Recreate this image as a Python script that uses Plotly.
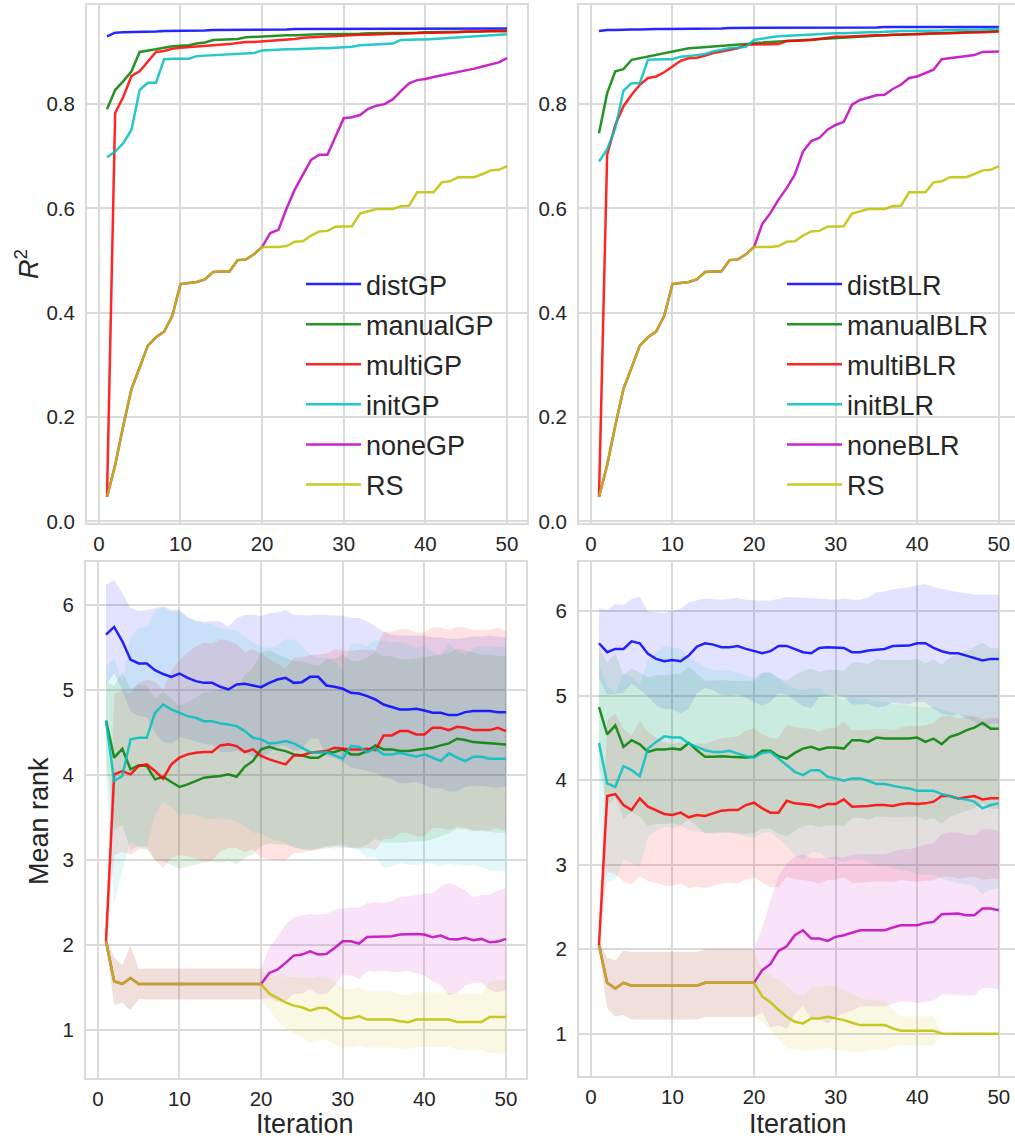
import plotly.graph_objects as go

W, H = 1015, 1140

# ---------------- data ----------------
iterations = list(range(1, 51))
x_ticks = [0, 10, 20, 30, 40, 50]
r2_ticks = [0.0, 0.2, 0.4, 0.6, 0.8]
rank_ticks = [1, 2, 3, 4, 5, 6]

gp_names = ["distGP", "manualGP", "multiGP", "initGP", "noneGP", "RS"]
blr_names = ["distBLR", "manualBLR", "multiBLR", "initBLR", "noneBLR", "RS"]

# R^2, GP panel
r2_dist_gp = [0.930, 0.937, 0.938, 0.938, 0.939, 0.939, 0.939, 0.940, 0.940, 0.940,
              0.941, 0.941, 0.941, 0.942, 0.942, 0.942, 0.942, 0.943, 0.943, 0.943,
              0.943, 0.943, 0.943, 0.944, 0.944, 0.944, 0.944, 0.944, 0.944, 0.944,
              0.944, 0.944, 0.945, 0.945, 0.945, 0.945, 0.945, 0.945, 0.945, 0.945,
              0.945, 0.945, 0.945, 0.945, 0.945, 0.945, 0.945, 0.945, 0.945, 0.945]
r2_manual_gp = [0.790, 0.827, 0.844, 0.863, 0.900, 0.902, 0.905, 0.908, 0.911, 0.912,
                0.913, 0.916, 0.918, 0.923, 0.924, 0.924, 0.925, 0.928, 0.929, 0.930,
                0.931, 0.931, 0.932, 0.932, 0.933, 0.933, 0.934, 0.934, 0.934, 0.935,
                0.935, 0.935, 0.936, 0.936, 0.936, 0.937, 0.937, 0.937, 0.937, 0.938,
                0.938, 0.938, 0.938, 0.939, 0.939, 0.939, 0.939, 0.940, 0.940, 0.940]
r2_multi_gp = [0.047, 0.783, 0.814, 0.854, 0.863, 0.881, 0.900, 0.902, 0.906, 0.908,
               0.909, 0.910, 0.912, 0.912, 0.913, 0.915, 0.917, 0.919, 0.919, 0.920,
               0.921, 0.923, 0.924, 0.925, 0.927, 0.928, 0.929, 0.930, 0.931, 0.932,
               0.932, 0.933, 0.933, 0.934, 0.934, 0.935, 0.935, 0.936, 0.936, 0.937,
               0.937, 0.937, 0.938, 0.938, 0.939, 0.939, 0.939, 0.940, 0.940, 0.940]
r2_init_gp = [0.698, 0.709, 0.725, 0.751, 0.827, 0.841, 0.841, 0.886, 0.887, 0.887,
              0.887, 0.892, 0.893, 0.894, 0.895, 0.896, 0.897, 0.897, 0.898, 0.903,
              0.904, 0.904, 0.905, 0.905, 0.906, 0.906, 0.907, 0.907, 0.908, 0.909,
              0.910, 0.913, 0.914, 0.915, 0.915, 0.916, 0.923, 0.924, 0.924, 0.924,
              0.925, 0.926, 0.927, 0.929, 0.930, 0.931, 0.932, 0.933, 0.934, 0.934]
r2_none_gp = [0.047, 0.108, 0.184, 0.254, 0.295, 0.337, 0.353, 0.364, 0.394, 0.455,
              0.457, 0.459, 0.464, 0.478, 0.479, 0.479, 0.501, 0.502, 0.512, 0.526,
              0.553, 0.559, 0.600, 0.636, 0.665, 0.693, 0.703, 0.703, 0.738, 0.773,
              0.775, 0.779, 0.791, 0.797, 0.800, 0.809, 0.825, 0.840, 0.846, 0.848,
              0.852, 0.855, 0.859, 0.862, 0.865, 0.868, 0.872, 0.876, 0.880, 0.888]
r2_rs = [0.047, 0.108, 0.184, 0.254, 0.295, 0.337, 0.353, 0.364, 0.394, 0.455,
         0.457, 0.459, 0.464, 0.478, 0.479, 0.479, 0.501, 0.502, 0.512, 0.526,
         0.526, 0.526, 0.528, 0.536, 0.537, 0.548, 0.556, 0.557, 0.565, 0.566,
         0.566, 0.590, 0.594, 0.599, 0.599, 0.599, 0.604, 0.605, 0.631, 0.631,
         0.631, 0.650, 0.652, 0.660, 0.660, 0.660, 0.666, 0.673, 0.674, 0.681]

# R^2, BLR panel
r2_dist_blr = [0.940, 0.942, 0.942, 0.943, 0.943, 0.943, 0.944, 0.944, 0.944, 0.944,
               0.945, 0.945, 0.945, 0.945, 0.945, 0.945, 0.946, 0.946, 0.946, 0.946,
               0.946, 0.946, 0.946, 0.947, 0.947, 0.947, 0.947, 0.947, 0.947, 0.947,
               0.947, 0.947, 0.947, 0.947, 0.947, 0.948, 0.948, 0.948, 0.948, 0.948,
               0.948, 0.948, 0.948, 0.948, 0.948, 0.948, 0.948, 0.948, 0.948, 0.948]
r2_manual_blr = [0.744, 0.821, 0.863, 0.867, 0.885, 0.888, 0.891, 0.894, 0.898, 0.901,
                 0.904, 0.907, 0.908, 0.909, 0.910, 0.911, 0.912, 0.913, 0.915, 0.917,
                 0.918, 0.919, 0.920, 0.921, 0.922, 0.923, 0.924, 0.925, 0.926, 0.927,
                 0.928, 0.929, 0.930, 0.931, 0.931, 0.932, 0.933, 0.933, 0.934, 0.935,
                 0.935, 0.936, 0.936, 0.937, 0.937, 0.938, 0.938, 0.939, 0.939, 0.940]
r2_multi_blr = [0.047, 0.703, 0.760, 0.796, 0.818, 0.837, 0.850, 0.853, 0.861, 0.872,
                0.883, 0.888, 0.889, 0.893, 0.898, 0.901, 0.904, 0.907, 0.914, 0.914,
                0.914, 0.915, 0.915, 0.921, 0.921, 0.922, 0.923, 0.925, 0.928, 0.929,
                0.929, 0.930, 0.930, 0.931, 0.932, 0.932, 0.933, 0.933, 0.934, 0.934,
                0.935, 0.935, 0.936, 0.936, 0.937, 0.937, 0.938, 0.938, 0.939, 0.939]
r2_init_blr = [0.690, 0.713, 0.754, 0.826, 0.840, 0.840, 0.885, 0.886, 0.886, 0.886,
               0.891, 0.892, 0.894, 0.896, 0.901, 0.904, 0.907, 0.908, 0.910, 0.923,
               0.926, 0.928, 0.930, 0.931, 0.932, 0.933, 0.934, 0.935, 0.935, 0.936,
               0.936, 0.937, 0.937, 0.938, 0.938, 0.939, 0.939, 0.940, 0.940, 0.940,
               0.941, 0.941, 0.941, 0.942, 0.942, 0.943, 0.943, 0.943, 0.944, 0.944]
r2_none_blr = [0.047, 0.108, 0.184, 0.254, 0.295, 0.337, 0.353, 0.364, 0.394, 0.455,
               0.457, 0.459, 0.464, 0.478, 0.479, 0.479, 0.501, 0.502, 0.512, 0.526,
               0.570, 0.591, 0.617, 0.639, 0.665, 0.709, 0.729, 0.735, 0.751, 0.760,
               0.766, 0.799, 0.808, 0.813, 0.817, 0.818, 0.829, 0.837, 0.850, 0.853,
               0.859, 0.866, 0.886, 0.888, 0.889, 0.891, 0.894, 0.900, 0.901, 0.901]

# Mean rank, GP panel
rank_dist_gp = [5.655, 5.745, 5.576, 5.360, 5.314, 5.314, 5.235, 5.190, 5.157, 5.196,
                5.145, 5.106, 5.086, 5.086, 5.040, 5.008, 5.067, 5.075, 5.055, 5.035,
                5.086, 5.125, 5.145, 5.086, 5.094, 5.157, 5.157, 5.055, 5.040, 5.016,
                4.969, 4.961, 4.929, 4.890, 4.831, 4.804, 4.773, 4.773, 4.780, 4.761,
                4.733, 4.733, 4.706, 4.706, 4.741, 4.753, 4.753, 4.753, 4.741, 4.741]
rank_manual_gp = [4.643, 4.204, 4.310, 4.067, 4.114, 4.106, 3.949, 3.980, 3.918, 3.859,
                  3.890, 3.929, 3.969, 3.980, 3.988, 4.008, 3.980, 4.098, 4.165, 4.302,
                  4.333, 4.302, 4.282, 4.243, 4.231, 4.204, 4.204, 4.263, 4.271, 4.302,
                  4.243, 4.243, 4.282, 4.349, 4.302, 4.302, 4.282, 4.282, 4.294, 4.302,
                  4.322, 4.349, 4.373, 4.427, 4.412, 4.388, 4.380, 4.373, 4.361, 4.361]
rank_multi_gp = [2.041, 4.008, 4.047, 4.008, 4.106, 4.125, 4.047, 3.957, 4.125, 4.204,
                 4.243, 4.263, 4.271, 4.271, 4.349, 4.361, 4.341, 4.271, 4.302, 4.224,
                 4.184, 4.153, 4.125, 4.231, 4.231, 4.263, 4.271, 4.282, 4.322, 4.310,
                 4.302, 4.302, 4.310, 4.294, 4.467, 4.467, 4.518, 4.518, 4.478, 4.478,
                 4.557, 4.557, 4.529, 4.569, 4.557, 4.529, 4.529, 4.529, 4.557, 4.518]
rank_init_gp = [4.635, 3.929, 3.988, 4.420, 4.439, 4.439, 4.733, 4.831, 4.773, 4.733,
                4.694, 4.675, 4.635, 4.635, 4.608, 4.596, 4.576, 4.518, 4.439, 4.420,
                4.373, 4.380, 4.400, 4.373, 4.322, 4.271, 4.263, 4.271, 4.231, 4.192,
                4.341, 4.333, 4.271, 4.310, 4.243, 4.243, 4.263, 4.243, 4.216, 4.243,
                4.204, 4.165, 4.255, 4.204, 4.165, 4.216, 4.216, 4.192, 4.192, 4.192]
rank_none_gp = [2.041, 1.570, 1.538, 1.609, 1.538, 1.538, 1.538, 1.538, 1.538, 1.538,
                1.538, 1.538, 1.538, 1.538, 1.538, 1.538, 1.538, 1.538, 1.538, 1.538,
                1.668, 1.707, 1.786, 1.872, 1.884, 1.923, 1.884, 1.892, 1.963, 2.041,
                2.041, 2.014, 2.092, 2.092, 2.092, 2.100, 2.120, 2.128, 2.128, 2.120,
                2.088, 2.108, 2.069, 2.061, 2.081, 2.053, 2.069, 2.029, 2.037, 2.069]
rank_rs_gp = [2.041, 1.570, 1.538, 1.609, 1.538, 1.538, 1.538, 1.538, 1.538, 1.538,
              1.538, 1.538, 1.538, 1.538, 1.538, 1.538, 1.538, 1.538, 1.538, 1.538,
              1.424, 1.373, 1.322, 1.283, 1.263, 1.224, 1.255, 1.255, 1.196, 1.134,
              1.134, 1.157, 1.118, 1.118, 1.118, 1.118, 1.098, 1.086, 1.118, 1.118,
              1.118, 1.118, 1.118, 1.090, 1.090, 1.090, 1.090, 1.149, 1.149, 1.149]

std_dist_gp = [0.59, 0.55, 0.57, 0.61, 0.62, 0.63, 0.73, 0.80, 0.79, 0.75,
               0.72, 0.71, 0.72, 0.73, 0.77, 0.74, 0.78, 0.81, 0.83, 0.84,
               0.82, 0.79, 0.80, 0.80, 0.79, 0.73, 0.73, 0.83, 0.84, 0.86,
               0.88, 0.89, 0.88, 0.86, 0.86, 0.85, 0.87, 0.87, 0.86, 0.88,
               0.89, 0.89, 0.90, 0.90, 0.88, 0.88, 0.88, 0.89, 0.89, 0.88]
std_manual_gp = [0.45, 0.85, 0.90, 0.95, 0.95, 0.95, 0.95, 1.00, 0.98, 0.96,
                 0.97, 0.98, 1.00, 1.00, 1.02, 1.02, 1.03, 1.08, 1.10, 1.14,
                 1.14, 1.12, 1.10, 1.10, 1.10, 1.10, 1.08, 1.10, 1.10, 1.12,
                 1.10, 1.10, 1.10, 1.10, 1.10, 1.10, 1.08, 1.08, 1.08, 1.08,
                 1.08, 1.07, 1.06, 1.06, 1.05, 1.05, 1.04, 1.04, 1.04, 1.04]
std_multi_gp = [0.08, 0.95, 0.95, 0.95, 0.98, 1.00, 1.05, 1.05, 1.10, 1.15,
                1.20, 1.25, 1.29, 1.28, 1.25, 1.22, 1.20, 1.18, 1.18, 1.20,
                1.18, 1.15, 1.13, 1.15, 1.15, 1.15, 1.15, 1.15, 1.16, 1.16,
                1.16, 1.17, 1.17, 1.18, 1.22, 1.22, 1.20, 1.20, 1.20, 1.20,
                1.18, 1.18, 1.18, 1.18, 1.18, 1.18, 1.18, 1.18, 1.18, 1.18]
std_init_gp = [0.65, 1.45, 1.10, 1.20, 1.30, 1.30, 1.20, 1.15, 1.15, 1.20,
               1.15, 1.15, 1.15, 1.15, 1.12, 1.12, 1.12, 1.12, 1.12, 1.10,
               1.12, 1.15, 1.20, 1.22, 1.20, 1.15, 1.12, 1.12, 1.10, 1.05,
               1.20, 1.22, 1.25, 1.28, 1.34, 1.32, 1.30, 1.30, 1.28, 1.28,
               1.25, 1.24, 1.30, 1.26, 1.24, 1.28, 1.30, 1.32, 1.32, 1.32]
std_none_gp = [0.05, 0.28, 0.22, 0.38, 0.18, 0.18, 0.18, 0.18, 0.18, 0.18,
               0.18, 0.18, 0.18, 0.18, 0.18, 0.18, 0.18, 0.18, 0.18, 0.18,
               0.30, 0.38, 0.45, 0.45, 0.46, 0.44, 0.47, 0.47, 0.45, 0.39,
               0.40, 0.42, 0.40, 0.41, 0.40, 0.42, 0.44, 0.44, 0.46, 0.48,
               0.52, 0.58, 0.66, 0.63, 0.56, 0.50, 0.52, 0.56, 0.60, 0.60]
std_rs_gp = [0.05, 0.28, 0.22, 0.38, 0.18, 0.18, 0.18, 0.18, 0.18, 0.18,
             0.18, 0.18, 0.18, 0.18, 0.18, 0.18, 0.18, 0.18, 0.18, 0.18,
             0.20, 0.27, 0.30, 0.33, 0.35, 0.38, 0.37, 0.37, 0.37, 0.35,
             0.34, 0.34, 0.33, 0.33, 0.33, 0.33, 0.32, 0.32, 0.32, 0.32,
             0.32, 0.32, 0.32, 0.33, 0.33, 0.33, 0.33, 0.42, 0.43, 0.44]

# Mean rank, BLR panel
rank_dist_blr = [5.619, 5.513, 5.552, 5.552, 5.642, 5.619, 5.493, 5.434, 5.407, 5.422,
                 5.407, 5.473, 5.580, 5.619, 5.603, 5.572, 5.572, 5.587, 5.552, 5.525,
                 5.501, 5.525, 5.587, 5.587, 5.552, 5.513, 5.501, 5.564, 5.572, 5.572,
                 5.564, 5.513, 5.513, 5.532, 5.540, 5.552, 5.587, 5.587, 5.591, 5.619,
                 5.619, 5.564, 5.525, 5.501, 5.501, 5.473, 5.446, 5.415, 5.434, 5.434]
rank_manual_blr = [4.864, 4.542, 4.648, 4.393, 4.472, 4.424, 4.334, 4.361, 4.361, 4.373,
                   4.361, 4.440, 4.354, 4.275, 4.275, 4.283, 4.275, 4.267, 4.267, 4.275,
                   4.346, 4.346, 4.283, 4.255, 4.322, 4.373, 4.393, 4.361, 4.385, 4.385,
                   4.373, 4.472, 4.472, 4.452, 4.503, 4.491, 4.491, 4.491, 4.491, 4.503,
                   4.452, 4.491, 4.424, 4.511, 4.542, 4.589, 4.621, 4.676, 4.609, 4.609]
rank_multi_blr = [2.047, 3.811, 3.835, 3.705, 3.646, 3.784, 3.686, 3.646, 3.599, 3.587,
                  3.615, 3.560, 3.587, 3.576, 3.607, 3.639, 3.646, 3.646, 3.705, 3.733,
                  3.666, 3.615, 3.615, 3.756, 3.725, 3.717, 3.705, 3.678, 3.717, 3.717,
                  3.772, 3.686, 3.686, 3.694, 3.705, 3.705, 3.694, 3.717, 3.725, 3.717,
                  3.725, 3.745, 3.811, 3.811, 3.784, 3.796, 3.811, 3.772, 3.784, 3.784]
rank_init_blr = [4.440, 3.961, 3.921, 4.165, 4.118, 4.047, 4.373, 4.452, 4.519, 4.503,
                 4.503, 4.432, 4.393, 4.354, 4.334, 4.334, 4.346, 4.314, 4.283, 4.267,
                 4.322, 4.334, 4.255, 4.177, 4.098, 4.059, 4.118, 4.118, 4.039, 4.020,
                 3.992, 4.020, 4.020, 3.992, 3.953, 3.953, 3.929, 3.914, 3.902, 3.874,
                 3.874, 3.874, 3.835, 3.811, 3.784, 3.772, 3.745, 3.666, 3.705, 3.725]
rank_none_blr = [2.047, 1.602, 1.535, 1.602, 1.567, 1.567, 1.567, 1.567, 1.567, 1.567,
                 1.567, 1.567, 1.567, 1.602, 1.602, 1.602, 1.602, 1.602, 1.602, 1.602,
                 1.752, 1.823, 1.980, 2.035, 2.165, 2.224, 2.126, 2.126, 2.098, 2.146,
                 2.165, 2.193, 2.224, 2.224, 2.224, 2.224, 2.256, 2.283, 2.283, 2.283,
                 2.311, 2.323, 2.413, 2.421, 2.421, 2.402, 2.402, 2.480, 2.480, 2.461]
rank_rs_blr = [2.047, 1.602, 1.535, 1.602, 1.567, 1.567, 1.567, 1.567, 1.567, 1.567,
               1.567, 1.567, 1.567, 1.602, 1.602, 1.602, 1.602, 1.602, 1.602, 1.602,
               1.441, 1.374, 1.283, 1.200, 1.142, 1.122, 1.181, 1.181, 1.200, 1.181,
               1.161, 1.130, 1.102, 1.102, 1.102, 1.102, 1.063, 1.035, 1.035, 1.035,
               1.035, 1.035, 1.004, 1.000, 1.000, 1.000, 1.000, 1.000, 1.000, 1.000]

std_dist_blr = [0.41, 0.50, 0.53, 0.52, 0.50, 0.55, 0.50, 0.55, 0.57, 0.58,
                0.62, 0.63, 0.55, 0.53, 0.54, 0.56, 0.57, 0.57, 0.58, 0.60,
                0.62, 0.60, 0.56, 0.58, 0.61, 0.64, 0.65, 0.58, 0.57, 0.56,
                0.58, 0.62, 0.62, 0.63, 0.68, 0.68, 0.67, 0.68, 0.69, 0.69,
                0.70, 0.72, 0.74, 0.74, 0.72, 0.74, 0.75, 0.78, 0.76, 0.76]
std_manual_blr = [0.70, 0.85, 0.85, 0.85, 0.85, 0.85, 0.88, 0.88, 0.88, 0.88,
                  0.90, 0.90, 0.90, 0.90, 0.90, 0.90, 0.90, 0.90, 0.90, 0.90,
                  0.92, 0.92, 0.92, 0.92, 0.92, 0.92, 0.92, 0.92, 0.92, 0.92,
                  0.92, 0.92, 0.92, 0.92, 0.93, 0.93, 0.93, 0.93, 0.93, 0.93,
                  0.93, 0.94, 0.94, 0.94, 0.94, 0.95, 0.95, 0.95, 0.95, 0.95]
std_multi_blr = [0.08, 0.90, 0.95, 0.90, 0.88, 0.92, 0.88, 0.86, 0.85, 0.84,
                 0.84, 0.84, 0.85, 0.85, 0.86, 0.86, 0.86, 0.87, 0.88, 0.88,
                 0.88, 0.88, 0.88, 0.90, 0.90, 0.90, 0.90, 0.90, 0.90, 0.90,
                 0.92, 0.90, 0.90, 0.90, 0.90, 0.90, 0.90, 0.90, 0.92, 0.92,
                 0.92, 0.93, 0.95, 0.95, 0.95, 0.95, 0.95, 0.95, 0.95, 0.95]
std_init_blr = [0.92, 1.16, 1.10, 1.10, 1.10, 1.08, 1.05, 1.05, 1.07, 1.07,
                1.05, 1.02, 1.00, 0.98, 0.97, 0.96, 0.95, 0.95, 0.95, 0.95,
                0.95, 0.95, 0.95, 0.95, 0.99, 1.00, 0.97, 0.97, 0.97, 0.96,
                0.96, 0.96, 0.96, 0.96, 0.97, 0.97, 0.97, 0.98, 0.98, 0.99,
                0.99, 0.99, 1.00, 1.00, 1.00, 1.00, 1.00, 1.02, 1.00, 1.00]
std_none_blr = [0.05, 0.30, 0.33, 0.38, 0.40, 0.40, 0.40, 0.40, 0.40, 0.40,
                0.40, 0.40, 0.40, 0.40, 0.40, 0.40, 0.40, 0.40, 0.40, 0.40,
                0.50, 0.75, 0.88, 0.98, 0.93, 0.90, 0.95, 0.95, 0.98, 0.95,
                0.92, 0.92, 0.90, 0.90, 0.90, 0.90, 0.90, 0.90, 0.90, 0.92,
                0.93, 0.93, 0.95, 0.96, 0.96, 0.95, 0.95, 0.94, 0.94, 0.94]
std_rs_blr = [0.05, 0.30, 0.33, 0.38, 0.40, 0.40, 0.40, 0.40, 0.40, 0.40,
              0.40, 0.40, 0.40, 0.40, 0.40, 0.40, 0.40, 0.40, 0.40, 0.40,
              0.30, 0.32, 0.35, 0.37, 0.33, 0.32, 0.37, 0.37, 0.37, 0.37,
              0.36, 0.35, 0.32, 0.30, 0.29, 0.29, 0.22, 0.17, 0.17, 0.17,
              0.17, 0.17, 0.00, 0.00, 0.00, 0.00, 0.00, 0.00, 0.00, 0.00]

# ---------------- style ----------------
base_rgb = [(0, 0, 255), (0, 128, 0), (255, 0, 0), (0, 191, 191), (191, 0, 191), (191, 191, 0)]
line_colors = ["rgba(%d,%d,%d,0.85)" % c for c in base_rgb]
band_colors = ["rgba(%d,%d,%d,0.11)" % c for c in base_rgb]

FONT = "Arial, 'Liberation Sans', Helvetica, sans-serif"
TXT = "#262626"
GRID = "#dadada"
TICK_SIZE = 20.5
LABEL_SIZE = 27


def px_x(a, b):
    return [a / W, b / W]


def px_y(top, bottom):
    return [1 - bottom / H, 1 - top / H]


fig = go.Figure()

top_gp = [r2_dist_gp, r2_manual_gp, r2_multi_gp, r2_init_gp, r2_none_gp, r2_rs]
top_blr = [r2_dist_blr, r2_manual_blr, r2_multi_blr, r2_init_blr, r2_none_blr, r2_rs]
bot_gp = [rank_dist_gp, rank_manual_gp, rank_multi_gp, rank_init_gp, rank_none_gp, rank_rs_gp]
bot_gp_sd = [std_dist_gp, std_manual_gp, std_multi_gp, std_init_gp, std_none_gp, std_rs_gp]
bot_blr = [rank_dist_blr, rank_manual_blr, rank_multi_blr, rank_init_blr, rank_none_blr, rank_rs_blr]
bot_blr_sd = [std_dist_blr, std_manual_blr, std_multi_blr, std_init_blr, std_none_blr, std_rs_blr]

# top panels: lines with legends
for names, series, xa, ya, leg in [(gp_names, top_gp, "x", "y", "legend"),
                                   (blr_names, top_blr, "x2", "y2", "legend2")]:
    for k, (nm, vals) in enumerate(zip(names, series)):
        fig.add_trace(go.Scatter(
            x=iterations, y=vals, mode="lines", name=nm,
            line=dict(color=line_colors[k], width=2.5),
            xaxis=xa, yaxis=ya, legend=leg, legendgroup=leg + nm,
            showlegend=True, hoverinfo="skip"))

# bottom panels: bands then lines
for names, means, sds, xa, ya in [(gp_names, bot_gp, bot_gp_sd, "x3", "y3"),
                                  (blr_names, bot_blr, bot_blr_sd, "x4", "y4")]:
    for k, (nm, m, s) in enumerate(zip(names, means, sds)):
        upper = [a + b for a, b in zip(m, s)]
        lower = [a - b for a, b in zip(m, s)]
        fig.add_trace(go.Scatter(
            x=iterations + iterations[::-1], y=upper + lower[::-1],
            mode="lines", fill="toself", fillcolor=band_colors[k],
            line=dict(width=0, color=band_colors[k]),
            xaxis=xa, yaxis=ya, showlegend=False, hoverinfo="skip"))
    for k, (nm, m) in enumerate(zip(names, means)):
        fig.add_trace(go.Scatter(
            x=iterations, y=m, mode="lines", name=nm,
            line=dict(color=line_colors[k], width=2.5),
            xaxis=xa, yaxis=ya, showlegend=False, hoverinfo="skip"))

axis_common = dict(
    showgrid=True, gridcolor=GRID, gridwidth=2,
    showline=True, mirror=True, linecolor=GRID, linewidth=2,
    zeroline=False, ticks="", automargin=False,
    tickfont=dict(family=FONT, size=TICK_SIZE, color=TXT),
)
xaxis_common = dict(ticklabelstandoff=1, **axis_common)
yaxis_common = dict(ticklabelstandoff=6, **axis_common)

x_full = [-1.45, 52.45]
x_cut = [-1.45, 51.98]

legend_common = dict(xanchor="left", yanchor="top", bgcolor="rgba(0,0,0,0)",
                     borderwidth=0, tracegroupgap=2, itemwidth=55,
                     font=dict(family=FONT, size=LABEL_SIZE, color=TXT))

fig.update_layout(
    width=W, height=H, autosize=False,
    margin=dict(l=0, r=0, t=0, b=0, pad=0),
    paper_bgcolor="white", plot_bgcolor="white",
    font=dict(family=FONT, color=TXT),
    xaxis=dict(domain=px_x(87, 527), range=x_full, tickvals=x_ticks, anchor="y", **xaxis_common),
    yaxis=dict(domain=px_y(5, 523), range=[-0.003, 0.99], tickvals=r2_ticks,
               tickformat=".1f", anchor="x", **yaxis_common),
    xaxis2=dict(domain=px_x(579, 1015), range=x_cut, tickvals=x_ticks, anchor="y2", **xaxis_common),
    yaxis2=dict(domain=px_y(5, 523), range=[-0.003, 0.99], tickvals=r2_ticks,
                tickformat=".1f", anchor="x2", **yaxis_common),
    xaxis3=dict(domain=px_x(86, 526), range=x_full, tickvals=x_ticks, anchor="y3", **xaxis_common),
    yaxis3=dict(domain=px_y(562, 1078), range=[0.43, 6.51], tickvals=rank_ticks, anchor="x3", **yaxis_common),
    xaxis4=dict(domain=px_x(579, 1015), range=x_cut, tickvals=x_ticks, anchor="y4", **xaxis_common),
    yaxis4=dict(domain=px_y(562, 1076), range=[0.50, 6.58], tickvals=rank_ticks, anchor="x4", **yaxis_common),
    legend=dict(x=301 / W, y=1 - 260 / H, **legend_common),
    legend2=dict(x=782 / W, y=1 - 260 / H, **legend_common),
    annotations=[
        dict(text="<i>R</i><sup>2</sup>", x=27 / W, y=1 - 264 / H, xref="paper", yref="paper",
             textangle=-90, showarrow=False, xanchor="center", yanchor="middle",
             font=dict(family=FONT, size=LABEL_SIZE, color=TXT)),
        dict(text="Mean rank", x=39 / W, y=1 - 821 / H, xref="paper", yref="paper",
             textangle=-90, showarrow=False, xanchor="center", yanchor="middle",
             font=dict(family=FONT, size=LABEL_SIZE, color=TXT)),
        dict(text="Iteration", x=305 / W, y=0, xref="paper", yref="paper",
             showarrow=False, xanchor="center", yanchor="bottom", borderpad=0,
             font=dict(family=FONT, size=LABEL_SIZE, color=TXT)),
        dict(text="Iteration", x=798 / W, y=0, xref="paper", yref="paper",
             showarrow=False, xanchor="center", yanchor="bottom", borderpad=0,
             font=dict(family=FONT, size=LABEL_SIZE, color=TXT)),
    ],
)

page_fix = (
    "var de=document.documentElement, b=document.body;"
    "de.style.margin='0';de.style.padding='0';de.style.overflow='hidden';de.style.height='1140px';"
    "b.style.margin='0';b.style.padding='0';b.style.overflow='hidden';b.style.height='1140px';"
    "var g=document.getElementById('{plot_id}');"
    "if(g&&g.parentElement){g.parentElement.style.height='1140px';g.parentElement.style.overflow='hidden';}"
)

fig.write_html("out.html", config={"displayModeBar": False, "staticPlot": True},
               post_script=page_fix)
